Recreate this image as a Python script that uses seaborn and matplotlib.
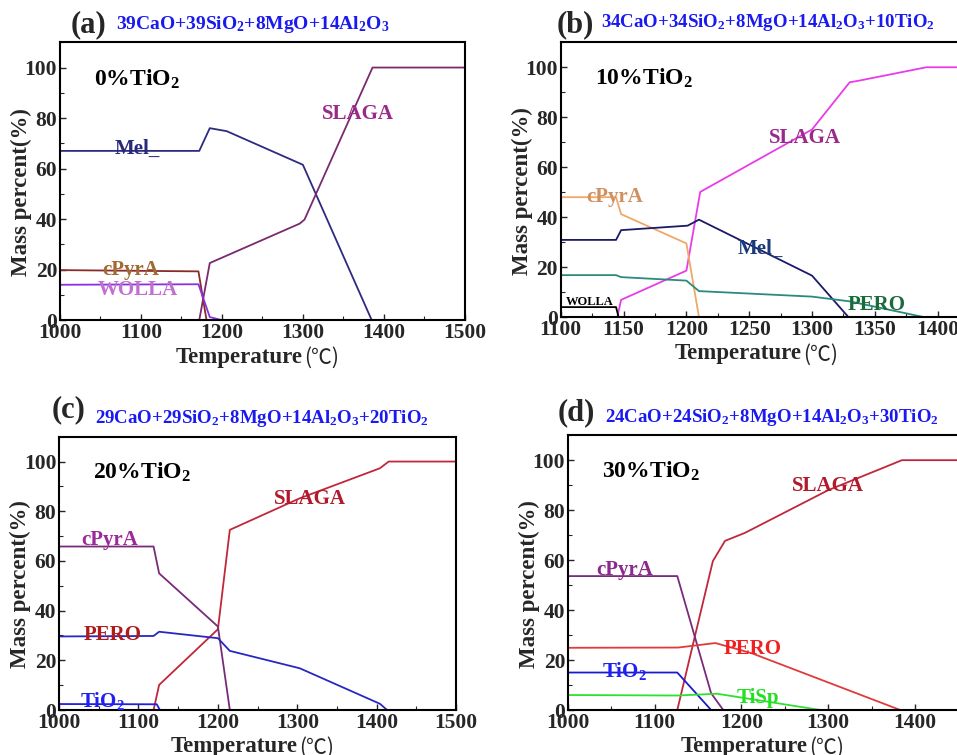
import matplotlib
matplotlib.use("Agg")
import matplotlib.pyplot as plt
from matplotlib.ticker import MultipleLocator
import seaborn as sns
import pandas as pd

sns.set_style("ticks")
plt.rcParams['font.family'] = ['Liberation Serif', 'Noto Sans CJK SC', 'DejaVu Sans']
plt.rcParams['font.weight'] = 'bold'
plt.rcParams['mathtext.fontset'] = 'custom'
plt.rcParams['mathtext.rm'] = 'Liberation Serif:bold'
plt.rcParams['mathtext.bf'] = 'Liberation Serif:bold'
plt.rcParams['mathtext.default'] = 'rm'

# ---- (a) 0% TiO2 ----
a_mel_t = [1000, 1172, 1185, 1206, 1300, 1385]
a_mel_v = [67, 67, 76, 74.8, 61.5, 0]
a_slag_t = [1172, 1185, 1296, 1302, 1386, 1500]
a_slag_v = [0, 22.6, 38.2, 39.8, 100, 100]
a_cpyr_t = [1000, 1171, 1181]
a_cpyr_v = [19.8, 19.3, 0]
a_woll_t = [1000, 1171, 1185, 1200]
a_woll_v = [14, 14.2, 1.2, 0]

# ---- (b) 10% TiO2 ----
b_slag_t = [1145, 1148, 1200, 1211, 1300, 1330, 1336, 1391, 1420]
b_slag_v = [0, 6.9, 18.6, 50.1, 75.1, 94, 94.5, 100, 100]
b_cpyr_t = [1100, 1144, 1148, 1200, 1210]
b_cpyr_v = [48, 48, 41.2, 29.5, 0]
b_mel_t = [1100, 1144, 1148, 1201, 1210, 1300, 1329]
b_mel_v = [30.9, 30.9, 34.8, 36.6, 39.0, 16.6, 0]
b_pero_t = [1100, 1144, 1148, 1200, 1210, 1300, 1330, 1389]
b_pero_v = [16.8, 16.8, 16.0, 14.6, 10.4, 8.2, 6.3, 0]
b_woll_t = [1100, 1144, 1146]
b_woll_v = [4, 4, 0]

# ---- (c) 20% TiO2 ----
c_slag_t = [1119, 1126, 1200, 1215, 1303, 1404, 1415, 1500]
c_slag_v = [0, 10.1, 32.5, 72.5, 85.2, 97.3, 100, 100]
c_cpyr_t = [1000, 1119, 1126, 1200, 1215]
c_cpyr_v = [65.8, 65.8, 55, 33.6, 0]
c_pero_t = [1000, 1119, 1126, 1200, 1215, 1303, 1404, 1413]
c_pero_v = [29.6, 29.8, 31.5, 28.9, 23.8, 16.8, 2.5, 0]
c_tio2_t = [1000, 1123, 1127]
c_tio2_v = [2.4, 2.3, 0]

# ---- (d) 30% TiO2 ----
d_slag_t = [1126, 1167, 1181, 1204, 1300, 1385, 1460]
d_slag_v = [0, 59.6, 67.7, 70.9, 88, 100, 100]
d_cpyr_t = [1000, 1126, 1165, 1179]
d_cpyr_v = [53.6, 53.6, 6.7, 0]
d_pero_t = [1000, 1127, 1170, 1212, 1383]
d_pero_v = [24.9, 25, 26.8, 22.7, 0]
d_tio2_t = [1000, 1126, 1165]
d_tio2_v = [15, 15, 0]
d_tisp_t = [1000, 1126, 1172, 1291]
d_tisp_v = [6, 5.8, 6.5, 0]

titles = ["(a)", "(b)", "(c)", "(d)"]
formulas = [
    "39CaO+39SiO$_2$+8MgO+14Al$_2$O$_3$",
    "34CaO+34SiO$_2$+8MgO+14Al$_2$O$_3$+10TiO$_2$",
    "29CaO+29SiO$_2$+8MgO+14Al$_2$O$_3$+20TiO$_2$",
    "24CaO+24SiO$_2$+8MgO+14Al$_2$O$_3$+30TiO$_2$",
]
tio2_text = ["0%TiO$_2$", "10%TiO$_2$", "20%TiO$_2$", "30%TiO$_2$"]

# panel: axes rect, xlim, x major step, title / formula anchors, series, labels
panels = [
    dict(rect=[0.0627, 0.576, 0.423, 0.368], xlim=(1000, 1500), step=100,
         title_xy=(0.027, 0.036), form_xy=(0.138, 0.047), form_fs=14,
         series=[(a_mel_t, a_mel_v, '#2e2a80'), (a_slag_t, a_slag_v, '#7a2a70'),
                 (a_cpyr_t, a_cpyr_v, '#8a2a2a'), (a_woll_t, a_woll_v, '#8a30e0')],
         labels=[("Mel_", 1067, 66, '#2a2a7a', 15), ("SLAGA", 1323, 79.8, '#9a2a8a', 15),
                 ("cPyrA", 1052, 17.8, '#a06a30', 15), ("WOLLA", 1046, 9.9, '#c070d0', 15)]),
    dict(rect=[0.586, 0.580, 0.420, 0.364], xlim=(1100, 1420), step=50,
         title_xy=(-0.01, 0.036), form_xy=(0.10, 0.055), form_fs=13.6,
         series=[(b_slag_t, b_slag_v, '#e83ce8'), (b_cpyr_t, b_cpyr_v, '#f0a868'),
                 (b_mel_t, b_mel_v, '#1a1a6a'), (b_pero_t, b_pero_v, '#2a8a80'),
                 (b_woll_t, b_woll_v, '#000000')],
         labels=[("SLAGA", 1266, 69.8, '#9a2a8a', 15), ("cPyrA", 1120, 45.9, '#d09060', 15),
                 ("Mel_", 1241, 25.3, '#1a3a7a', 15), ("PERO", 1328, 2.7, '#1a6a3a', 15),
                 ("WOLLA", 1104, 4.7, '#000000', 9)]),
    dict(rect=[0.0617, 0.0596, 0.415, 0.362], xlim=(1000, 1500), step=100,
         title_xy=(-0.018, 0.07), form_xy=(0.09, 0.051), form_fs=13.6,
         series=[(c_slag_t, c_slag_v, '#c0283a'), (c_cpyr_t, c_cpyr_v, '#7a2a7a'),
                 (c_pero_t, c_pero_v, '#2828c0'), (c_tio2_t, c_tio2_v, '#2020e0')],
         labels=[("SLAGA", 1271, 82.8, '#b01a2a', 15), ("cPyrA", 1028, 66.4, '#9a2a9a', 15),
                 ("PERO", 1031, 28.2, '#b01a1a', 15), ("TiO$_2$", 1026, 1.3, '#2020f0', 15)]),
    dict(rect=[0.5935, 0.0596, 0.417, 0.364], xlim=(1000, 1460), step=100,
         title_xy=(-0.025, 0.055), form_xy=(0.093, 0.047), form_fs=13.6,
         series=[(d_slag_t, d_slag_v, '#c0283a'), (d_cpyr_t, d_cpyr_v, '#7a2a7a'),
                 (d_pero_t, d_pero_v, '#e03a3a'), (d_tio2_t, d_tio2_v, '#1a1ad0'),
                 (d_tisp_t, d_tisp_v, '#30e030')],
         labels=[("SLAGA", 1258, 87.6, '#b01a2a', 15), ("cPyrA", 1033, 54, '#8a2a8a', 15),
                 ("PERO", 1179, 22.3, '#f02020', 15), ("TiO$_2$", 1039, 13.3, '#2020f0', 15),
                 ("TiSp", 1194, 2.7, '#20e020', 15)]),
]

fig = plt.figure(figsize=(9.57, 7.55), dpi=100)

for i, p in enumerate(panels):
    ax = fig.add_axes(p['rect'])
    for t, v, col in p['series']:
        df = pd.DataFrame({'T': t, 'v': v})
        sns.lineplot(data=df, x='T', y='v', ax=ax, color=col, lw=1.3,
                     sort=False, estimator=None)
    for txt, x, y, col, fs in p['labels']:
        ax.text(x, y, txt, color=col, fontsize=fs, fontweight='bold',
                ha='left', va='baseline')
    ax.text(0.085, 0.845, tio2_text[i], transform=ax.transAxes, fontsize=17,
            fontweight='bold', color='black', ha='left', va='baseline')

    ax.set_xlim(*p['xlim'])
    ax.set_ylim(0, 110)
    ax.xaxis.set_major_locator(MultipleLocator(p['step']))
    ax.xaxis.set_minor_locator(MultipleLocator(p['step'] / 2))
    ax.yaxis.set_major_locator(MultipleLocator(20))
    ax.yaxis.set_minor_locator(MultipleLocator(10))
    ax.tick_params(which='both', direction='in', labelsize=15.5, pad=2)
    ax.tick_params(which='major', length=4, width=1)
    ax.tick_params(which='minor', length=3, width=0.8)
    for lab in ax.get_xticklabels() + ax.get_yticklabels():
        lab.set_fontweight('bold')
    for s in ax.spines.values():
        s.set_linewidth(1.5)
        s.set_color('black')

    ax.set_xlabel("Temperature", fontsize=16.5, fontweight='bold')
    ax.xaxis.label.set_ha('right')
    ax.xaxis.set_label_coords(0.6, -0.095)
    ax.annotate("(℃)", xy=(1, 0.45), xycoords=ax.xaxis.label, ha='left', va='center',
                fontsize=15, fontweight='light', family=['Noto Sans CJK SC'],
                xytext=(1, 0), textcoords='offset points')
    ax.set_ylabel("Mass percent(%)", fontsize=16.5, fontweight='bold')
    ax.yaxis.set_label_coords(-0.07, 0.46)

    tx, ty = p['title_xy']
    fx, fy = p['form_xy']
    ax.text(tx, 1 + ty, titles[i], transform=ax.transAxes, fontsize=22,
            fontweight='bold', ha='left', va='baseline')
    ax.text(fx, 1 + fy, formulas[i], transform=ax.transAxes, fontsize=p['form_fs'],
            fontweight='bold', color='#1a1af0', ha='left', va='baseline')

fig.savefig("out.png", dpi=100)
